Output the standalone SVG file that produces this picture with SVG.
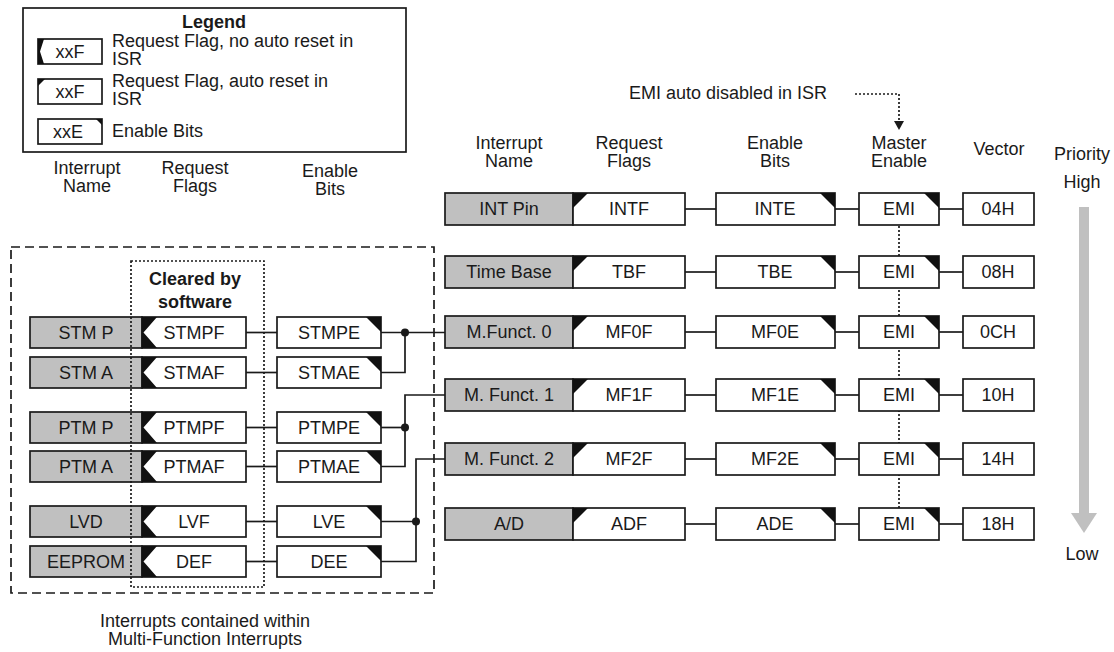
<svg xmlns="http://www.w3.org/2000/svg" width="1114" height="652" viewBox="0 0 1114 652">
<style>
text{font-family:"Liberation Sans",Arial,sans-serif;font-size:18px;fill:#1a1a1a}
.c{text-anchor:middle}
.b{font-weight:bold}
.box{fill:#fff;stroke:#1a1a1a;stroke-width:1.7}
.name{fill:#c0c0c0;stroke:#1a1a1a;stroke-width:1.7}
.blk{fill:#111;stroke:none}
.ln{fill:none;stroke:#1a1a1a;stroke-width:1.7}
.dot{fill:#1a1a1a}
.dotted{fill:none;stroke:#1a1a1a;stroke-width:1.7;stroke-dasharray:2 2}
.dashed{fill:none;stroke:#1a1a1a;stroke-width:1.7;stroke-dasharray:9 5}
</style>
<rect width="1114" height="652" fill="#fff"/>

<!-- Legend -->
<g id="legend">
<rect x="23" y="8" width="383" height="144" class="box"/>
<text x="214" y="28" class="c b">Legend</text>
<rect x="38" y="39" width="64" height="25" class="box"/>
<polygon points="38,39 44,39 40,51.5 44,64 38,64" class="blk"/>
<text x="70" y="58" class="c">xxF</text>
<text x="112" y="47">Request Flag, no auto reset in</text>
<text x="112" y="65">ISR</text>
<rect x="38" y="79" width="64" height="25" class="box"/>
<polygon points="38,79 45,79 38,86" class="blk"/>
<text x="70" y="98" class="c">xxF</text>
<text x="112" y="87">Request Flag, auto reset in</text>
<text x="112" y="105">ISR</text>
<rect x="38" y="119" width="64" height="25" class="box"/>
<polygon points="96,119 102,119 102,125" class="blk"/>
<text x="68" y="138" class="c">xxE</text>
<text x="112" y="137">Enable Bits</text>
</g>

<!-- Left headers -->
<g id="left-headers">
<text x="87" y="174" class="c">Interrupt</text>
<text x="87" y="192" class="c">Name</text>
<text x="195" y="174" class="c">Request</text>
<text x="195" y="192" class="c">Flags</text>
<text x="330" y="177" class="c">Enable</text>
<text x="330" y="195" class="c">Bits</text>
</g>

<!-- Right headers -->
<g id="right-headers">
<text x="629" y="99">EMI auto disabled in ISR</text>
<text x="509" y="149" class="c">Interrupt</text>
<text x="509" y="167" class="c">Name</text>
<text x="629" y="149" class="c">Request</text>
<text x="629" y="167" class="c">Flags</text>
<text x="775" y="149" class="c">Enable</text>
<text x="775" y="167" class="c">Bits</text>
<text x="899" y="149" class="c">Master</text>
<text x="899" y="167" class="c">Enable</text>
<text x="999" y="155" class="c">Vector</text>
<text x="1082" y="160" class="c">Priority</text>
<text x="1082" y="188" class="c">High</text>
<text x="1082" y="560" class="c">Low</text>
</g>

<!-- Priority arrow -->
<g id="priority-arrow">
<rect x="1079" y="207" width="10" height="307" fill="#c0c0c0"/>
<polygon points="1071,513 1097,513 1084,533" fill="#c0c0c0"/>
</g>

<!-- Connectors -->
<g id="connectors">
<polyline points="855,94 899,94 899,122" class="dotted"/>
<polygon points="894,121 904,121 899,130" class="dot"/>
<line x1="899" y1="226" x2="899" y2="508" class="dotted"/>
<line x1="685" y1="209" x2="716" y2="209" class="ln"/><line x1="835" y1="209" x2="859" y2="209" class="ln"/><line x1="939" y1="209" x2="963" y2="209" class="ln"/>
<line x1="685" y1="272" x2="716" y2="272" class="ln"/><line x1="835" y1="272" x2="859" y2="272" class="ln"/><line x1="939" y1="272" x2="963" y2="272" class="ln"/>
<line x1="685" y1="332" x2="716" y2="332" class="ln"/><line x1="835" y1="332" x2="859" y2="332" class="ln"/><line x1="939" y1="332" x2="963" y2="332" class="ln"/>
<line x1="685" y1="395" x2="716" y2="395" class="ln"/><line x1="835" y1="395" x2="859" y2="395" class="ln"/><line x1="939" y1="395" x2="963" y2="395" class="ln"/>
<line x1="685" y1="459" x2="716" y2="459" class="ln"/><line x1="835" y1="459" x2="859" y2="459" class="ln"/><line x1="939" y1="459" x2="963" y2="459" class="ln"/>
<line x1="685" y1="524" x2="716" y2="524" class="ln"/><line x1="835" y1="524" x2="859" y2="524" class="ln"/><line x1="939" y1="524" x2="963" y2="524" class="ln"/>
<line x1="246" y1="332.5" x2="277" y2="332.5" class="ln"/>
<line x1="246" y1="372.5" x2="277" y2="372.5" class="ln"/>
<line x1="246" y1="427.5" x2="277" y2="427.5" class="ln"/>
<line x1="246" y1="466.5" x2="277" y2="466.5" class="ln"/>
<line x1="246" y1="521.5" x2="277" y2="521.5" class="ln"/>
<line x1="246" y1="561.5" x2="277" y2="561.5" class="ln"/>
<line x1="381" y1="332.5" x2="445" y2="332.5" class="ln"/>
<polyline points="381,372.5 405,372.5 405,332.5" class="ln"/>
<circle cx="405" cy="332.5" r="4" class="dot"/>
<line x1="381" y1="427.5" x2="405" y2="427.5" class="ln"/>
<polyline points="381,466.5 405,466.5 405,395 445,395" class="ln"/>
<circle cx="405" cy="427.5" r="4" class="dot"/>
<line x1="381" y1="521.5" x2="416" y2="521.5" class="ln"/>
<polyline points="381,561.5 416,561.5 416,459 445,459" class="ln"/>
<circle cx="416" cy="521.5" r="4" class="dot"/>
</g>

<!-- Right rows -->
<g id="row-int">
<rect x="445" y="193" width="128" height="32" class="name"/><text x="509" y="215" class="c">INT Pin</text>
<rect x="573" y="193" width="112" height="32" class="box"/><polygon points="573,193 588,193 573,208" class="blk"/><text x="629" y="215" class="c">INTF</text>
<rect x="716" y="193" width="119" height="32" class="box"/><polygon points="820,193 835,193 835,208" class="blk"/><text x="775" y="215" class="c">INTE</text>
<rect x="859" y="193" width="80" height="32" class="box"/><polygon points="924,193 939,193 939,208" class="blk"/><text x="899" y="215" class="c">EMI</text>
<rect x="963" y="193" width="71" height="32" class="box"/><text x="998" y="215" class="c">04H</text>
</g>
<g id="row-tb">
<rect x="445" y="256" width="128" height="32" class="name"/><text x="509" y="278" class="c">Time Base</text>
<rect x="573" y="256" width="112" height="32" class="box"/><polygon points="573,256 588,256 573,271" class="blk"/><text x="629" y="278" class="c">TBF</text>
<rect x="716" y="256" width="119" height="32" class="box"/><polygon points="820,256 835,256 835,271" class="blk"/><text x="775" y="278" class="c">TBE</text>
<rect x="859" y="256" width="80" height="32" class="box"/><polygon points="924,256 939,256 939,271" class="blk"/><text x="899" y="278" class="c">EMI</text>
<rect x="963" y="256" width="71" height="32" class="box"/><text x="998" y="278" class="c">08H</text>
</g>
<g id="row-mf0">
<rect x="445" y="316" width="128" height="32" class="name"/><text x="509" y="338" class="c">M.Funct. 0</text>
<rect x="573" y="316" width="112" height="32" class="box"/><polygon points="573,316 588,316 573,331" class="blk"/><text x="629" y="338" class="c">MF0F</text>
<rect x="716" y="316" width="119" height="32" class="box"/><polygon points="820,316 835,316 835,331" class="blk"/><text x="775" y="338" class="c">MF0E</text>
<rect x="859" y="316" width="80" height="32" class="box"/><polygon points="924,316 939,316 939,331" class="blk"/><text x="899" y="338" class="c">EMI</text>
<rect x="963" y="316" width="71" height="32" class="box"/><text x="998" y="338" class="c">0CH</text>
</g>
<g id="row-mf1">
<rect x="445" y="379" width="128" height="32" class="name"/><text x="509" y="401" class="c">M. Funct. 1</text>
<rect x="573" y="379" width="112" height="32" class="box"/><polygon points="573,379 588,379 573,394" class="blk"/><text x="629" y="401" class="c">MF1F</text>
<rect x="716" y="379" width="119" height="32" class="box"/><polygon points="820,379 835,379 835,394" class="blk"/><text x="775" y="401" class="c">MF1E</text>
<rect x="859" y="379" width="80" height="32" class="box"/><polygon points="924,379 939,379 939,394" class="blk"/><text x="899" y="401" class="c">EMI</text>
<rect x="963" y="379" width="71" height="32" class="box"/><text x="998" y="401" class="c">10H</text>
</g>
<g id="row-mf2">
<rect x="445" y="443" width="128" height="32" class="name"/><text x="509" y="465" class="c">M. Funct. 2</text>
<rect x="573" y="443" width="112" height="32" class="box"/><polygon points="573,443 588,443 573,458" class="blk"/><text x="629" y="465" class="c">MF2F</text>
<rect x="716" y="443" width="119" height="32" class="box"/><polygon points="820,443 835,443 835,458" class="blk"/><text x="775" y="465" class="c">MF2E</text>
<rect x="859" y="443" width="80" height="32" class="box"/><polygon points="924,443 939,443 939,458" class="blk"/><text x="899" y="465" class="c">EMI</text>
<rect x="963" y="443" width="71" height="32" class="box"/><text x="998" y="465" class="c">14H</text>
</g>
<g id="row-ad">
<rect x="445" y="508" width="128" height="32" class="name"/><text x="509" y="530" class="c">A/D</text>
<rect x="573" y="508" width="112" height="32" class="box"/><polygon points="573,508 588,508 573,523" class="blk"/><text x="629" y="530" class="c">ADF</text>
<rect x="716" y="508" width="119" height="32" class="box"/><polygon points="820,508 835,508 835,523" class="blk"/><text x="775" y="530" class="c">ADE</text>
<rect x="859" y="508" width="80" height="32" class="box"/><polygon points="924,508 939,508 939,523" class="blk"/><text x="899" y="530" class="c">EMI</text>
<rect x="963" y="508" width="71" height="32" class="box"/><text x="998" y="530" class="c">18H</text>
</g>

<!-- Left rows -->
<g id="row-stmp">
<rect x="30" y="317" width="112" height="31" class="name"/><text x="86" y="339" class="c">STM P</text>
<rect x="142" y="317" width="104" height="31" class="box"/><polygon points="142,317 157,317 143.5,332.5 157,348 142,348" class="blk"/><text x="194" y="339" class="c">STMPF</text>
<rect x="277" y="317" width="104" height="31" class="box"/><polygon points="366,317 381,317 381,332" class="blk"/><text x="329" y="339" class="c">STMPE</text>
</g>
<g id="row-stma">
<rect x="30" y="357" width="112" height="31" class="name"/><text x="86" y="379" class="c">STM A</text>
<rect x="142" y="357" width="104" height="31" class="box"/><polygon points="142,357 157,357 143.5,372.5 157,388 142,388" class="blk"/><text x="194" y="379" class="c">STMAF</text>
<rect x="277" y="357" width="104" height="31" class="box"/><polygon points="366,357 381,357 381,372" class="blk"/><text x="329" y="379" class="c">STMAE</text>
</g>
<g id="row-ptmp">
<rect x="30" y="412" width="112" height="31" class="name"/><text x="86" y="434" class="c">PTM P</text>
<rect x="142" y="412" width="104" height="31" class="box"/><polygon points="142,412 157,412 143.5,427.5 157,443 142,443" class="blk"/><text x="194" y="434" class="c">PTMPF</text>
<rect x="277" y="412" width="104" height="31" class="box"/><polygon points="366,412 381,412 381,427" class="blk"/><text x="329" y="434" class="c">PTMPE</text>
</g>
<g id="row-ptma">
<rect x="30" y="451" width="112" height="31" class="name"/><text x="86" y="473" class="c">PTM A</text>
<rect x="142" y="451" width="104" height="31" class="box"/><polygon points="142,451 157,451 143.5,466.5 157,482 142,482" class="blk"/><text x="194" y="473" class="c">PTMAF</text>
<rect x="277" y="451" width="104" height="31" class="box"/><polygon points="366,451 381,451 381,466" class="blk"/><text x="329" y="473" class="c">PTMAE</text>
</g>
<g id="row-lvd">
<rect x="30" y="506" width="112" height="31" class="name"/><text x="86" y="528" class="c">LVD</text>
<rect x="142" y="506" width="104" height="31" class="box"/><polygon points="142,506 157,506 143.5,521.5 157,537 142,537" class="blk"/><text x="194" y="528" class="c">LVF</text>
<rect x="277" y="506" width="104" height="31" class="box"/><polygon points="366,506 381,506 381,521" class="blk"/><text x="329" y="528" class="c">LVE</text>
</g>
<g id="row-eeprom">
<rect x="30" y="546" width="112" height="31" class="name"/><text x="86" y="568" class="c">EEPROM</text>
<rect x="142" y="546" width="104" height="31" class="box"/><polygon points="142,546 157,546 143.5,561.5 157,577 142,577" class="blk"/><text x="194" y="568" class="c">DEF</text>
<rect x="277" y="546" width="104" height="31" class="box"/><polygon points="366,546 381,546 381,561" class="blk"/><text x="329" y="568" class="c">DEE</text>
</g>

<!-- Groupings -->
<g id="mf-group">
<rect x="11" y="247" width="423" height="346" class="dashed"/>
<text x="205" y="627" class="c">Interrupts contained within</text>
<text x="205" y="645" class="c">Multi-Function Interrupts</text>
</g>
<g id="cleared-group">
<rect x="131" y="261" width="133" height="326" class="dotted"/>
<text x="195" y="285" class="c b">Cleared by</text>
<text x="195" y="308" class="c b">software</text>
</g>
</svg>
